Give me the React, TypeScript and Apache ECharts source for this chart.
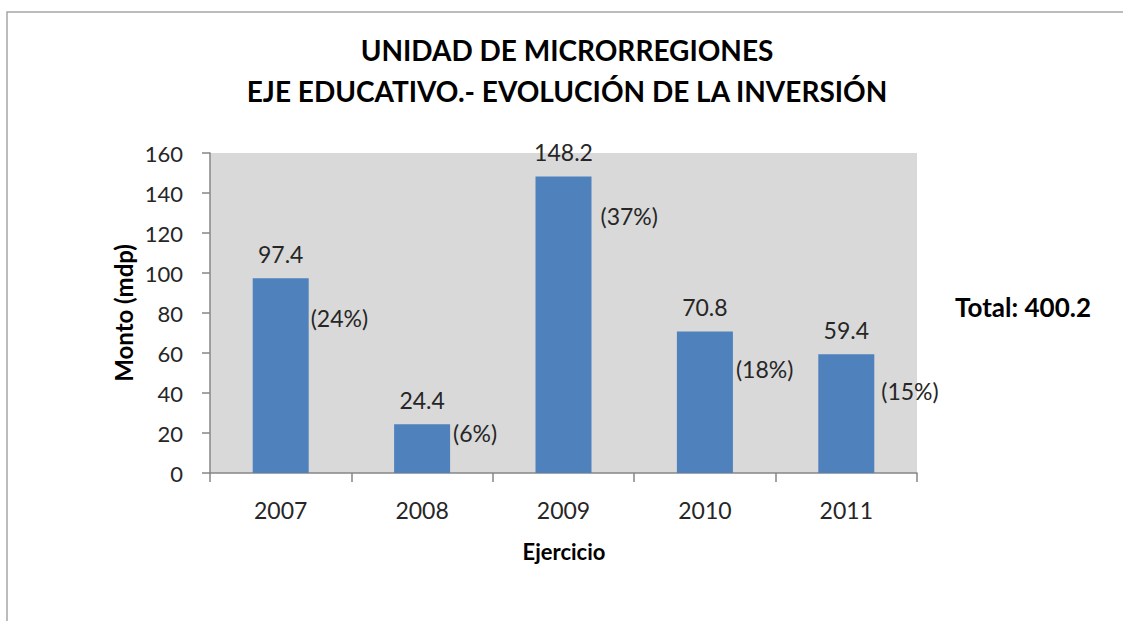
import React, { useEffect, useRef } from "react";
import * as echarts from "echarts";

const years = ["2007", "2008", "2009", "2010", "2011"];
const amounts = [97.4, 24.4, 148.2, 70.8, 59.4];
const shares = ["(24%)", "(6%)", "(37%)", "(18%)", "(15%)"];
const yTicks = { min: 0, max: 160, interval: 20 };
const totalLabel = "Total: 400.2";
const titleLines = ["UNIDAD DE MICRORREGIONES", "EJE EDUCATIVO.- EVOLUCIÓN DE LA INVERSIÓN"];
const yAxisTitle = "Monto (mdp)";
const xAxisTitle = "Ejercicio";

// label layout (pixels), not data
const shareDx = [2, 3, 9, 3, 7];
const shareDy = [40, 9, 39, 38, 37];

const FONT = "Lato, 'Open Sans', sans-serif";

export default function App() {
  const ref = useRef<HTMLDivElement>(null);
  useEffect(() => {
    if (!ref.current) return;
    const chart = echarts.init(ref.current, null, { renderer: "svg" });
    const option = {
      animation: false,
      backgroundColor: "#ffffff",
      textStyle: { fontFamily: FONT },
      grid: { left: 210, top: 153, width: 707, height: 320, containLabel: false, show: true, backgroundColor: "#d9d9d9", borderWidth: 0 },
      xAxis: {
        type: "category",
        data: years,
        axisLine: { show: true, lineStyle: { color: "#868686", width: 1.5 } },
        axisTick: { show: true, alignWithLabel: false, length: 9, lineStyle: { color: "#868686", width: 1.5 } },
        axisLabel: { fontSize: 23, color: "#262626", margin: 25, fontFamily: FONT },
      },
      yAxis: {
        type: "value",
        min: yTicks.min,
        max: yTicks.max,
        interval: yTicks.interval,
        axisLine: { show: true, lineStyle: { color: "#868686", width: 1.5 } },
        axisTick: { show: true, length: 8, lineStyle: { color: "#868686", width: 1.5 } },
        axisLabel: { fontSize: 22, color: "#262626", margin: 27, fontFamily: FONT },
        splitLine: { show: false },
      },
      series: [
        {
          type: "bar",
          data: amounts,
          barWidth: 56,
          itemStyle: { color: "#4f81bd" },
          label: {
            show: true,
            position: "top",
            distance: 13,
            fontSize: 23,
            color: "#262626",
            fontFamily: FONT,
            formatter: (p: any) => String(p.value),
          },
          z: 2,
        },
        {
          type: "bar",
          data: amounts.map((v, i) => ({
            value: v,
            label: {
              show: true,
              position: [56 + shareDx[i], shareDy[i]],
              align: "left",
              verticalAlign: "middle",
              formatter: shares[i],
              fontSize: 23,
              color: "#262626",
              fontFamily: FONT,
            },
          })),
          barWidth: 56,
          barGap: "-100%",
          itemStyle: { color: "rgba(0,0,0,0)" },
          silent: true,
          z: 3,
        },
      ],
      graphic: [
        { type: "rect", shape: { x: 7, y: 12, width: 1400, height: 900 }, style: { fill: "none", stroke: "#a6a6a6", lineWidth: 1.5 }, z: 100 },
        { type: "text", x: 567, y: 50, style: { text: titleLines[0], font: `bold 28px ${FONT}`, fill: "#000", textAlign: "center", textVerticalAlign: "middle" } },
        { type: "text", x: 567, y: 91, style: { text: titleLines[1], font: `bold 28px ${FONT}`, fill: "#000", textAlign: "center", textVerticalAlign: "middle" } },
        { type: "text", x: 123, y: 313, rotation: Math.PI / 2, style: { text: yAxisTitle, font: `bold 24px ${FONT}`, fill: "#000", textAlign: "center", textVerticalAlign: "middle" } },
        { type: "text", x: 564, y: 551, style: { text: xAxisTitle, font: `bold 22px ${FONT}`, fill: "#000", textAlign: "center", textVerticalAlign: "middle" } },
        { type: "text", x: 955, y: 307, style: { text: totalLabel, font: `bold 26px ${FONT}`, fill: "#000", textAlign: "left", textVerticalAlign: "middle" } },
      ],
    };
    chart.setOption(option as any);
    return () => chart.dispose();
  }, []);
  return <div ref={ref} style={{ position: "fixed", left: 0, top: 0, width: 1123, height: 621 }} />;
}
